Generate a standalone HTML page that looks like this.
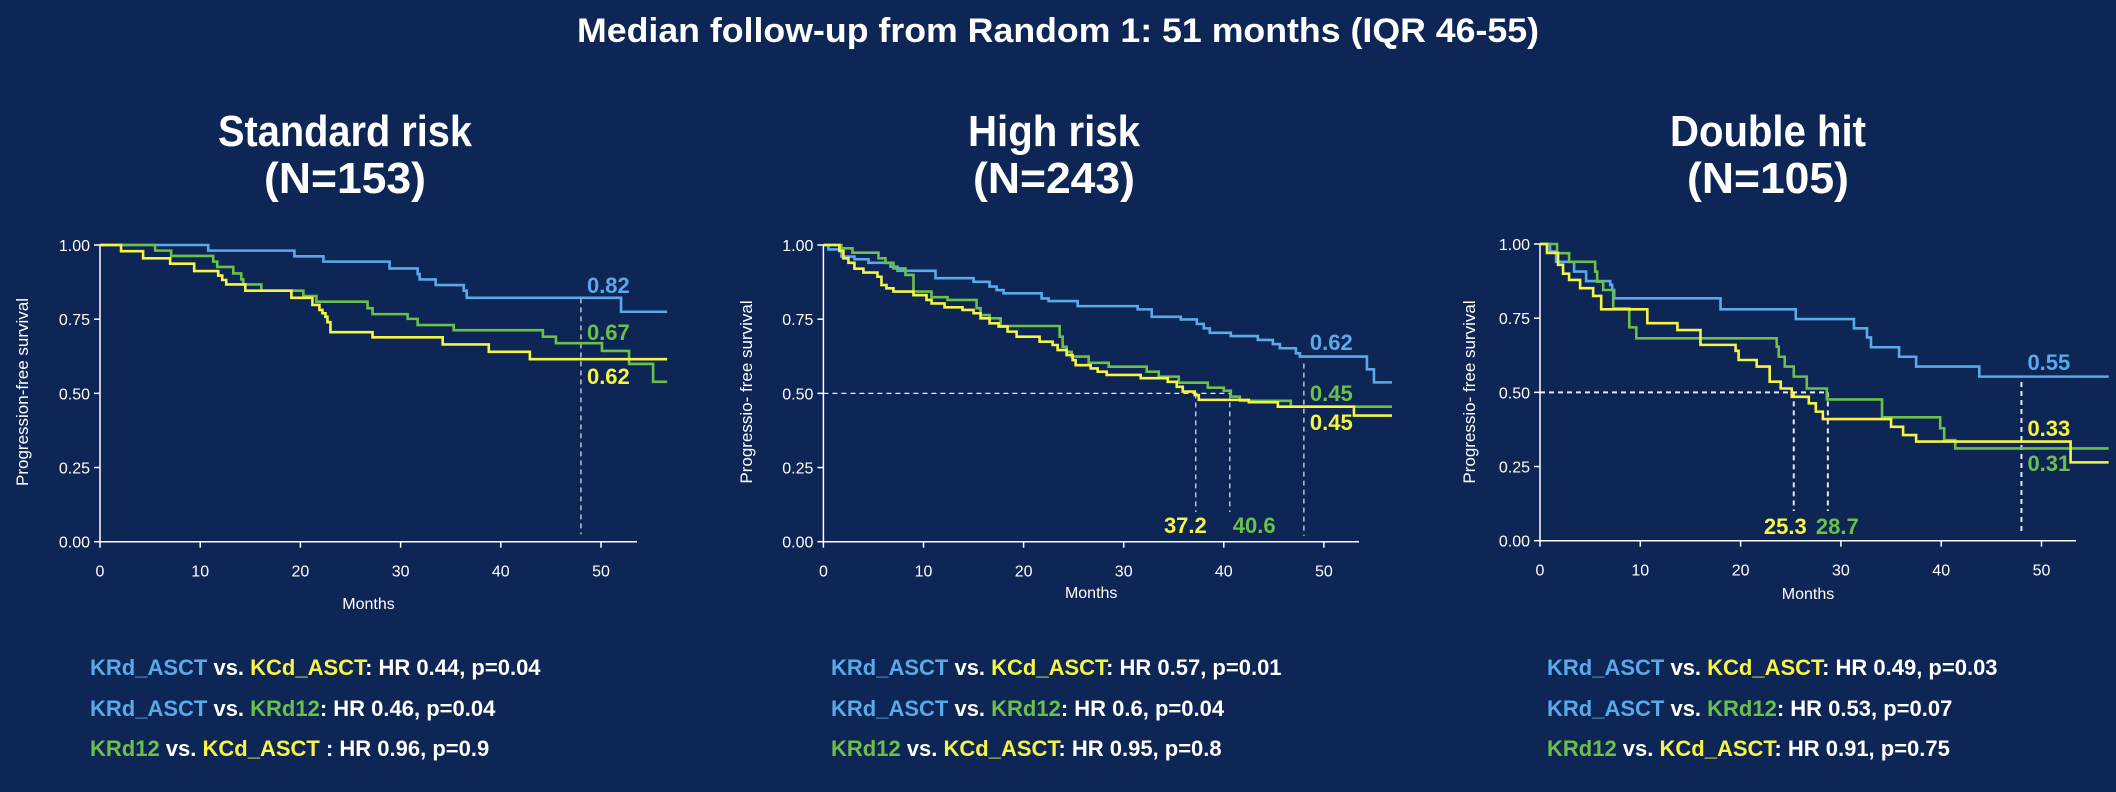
<!DOCTYPE html>
<html><head><meta charset="utf-8"><style>
html,body{margin:0;padding:0;background:#0d2656;}
svg{display:block;font-family:"Liberation Sans",Arial,sans-serif;}
</style></head><body>
<svg id="root" width="2116" height="792" viewBox="0 0 2116 792" xmlns="http://www.w3.org/2000/svg">
<rect x="0" y="0" width="2116" height="792" fill="#0d2656"/>
<text x="1058" y="42" text-anchor="middle" fill="#fff" font-weight="bold" font-size="34" textLength="962" lengthAdjust="spacingAndGlyphs">Median follow-up from Random 1: 51 months (IQR 46-55)</text>

<g fill="#fff" font-weight="bold" font-size="44" text-anchor="middle">
<text x="345" y="146" textLength="254" lengthAdjust="spacingAndGlyphs">Standard risk</text>
<text x="345" y="193" textLength="162" lengthAdjust="spacingAndGlyphs">(N=153)</text></g>
<g fill="#fff" font-weight="bold" font-size="44" text-anchor="middle">
<text x="1054" y="146" textLength="172" lengthAdjust="spacingAndGlyphs">High risk</text>
<text x="1054" y="193" textLength="162" lengthAdjust="spacingAndGlyphs">(N=243)</text></g>
<g fill="#fff" font-weight="bold" font-size="44" text-anchor="middle">
<text x="1768" y="146" textLength="196" lengthAdjust="spacingAndGlyphs">Double hit</text>
<text x="1768" y="193" textLength="162" lengthAdjust="spacingAndGlyphs">(N=105)</text></g>

<g font-weight="bold" font-size="22" fill="#fff">
<text x="90" y="675"><tspan fill="#5aa9e8">KRd_ASCT</tspan> vs. <tspan fill="#f6f544">KCd_ASCT</tspan>: HR 0.44, p=0.04</text>
<text x="90" y="716"><tspan fill="#5aa9e8">KRd_ASCT</tspan> vs. <tspan fill="#6cc04a">KRd12</tspan>: HR 0.46, p=0.04</text>
<text x="90" y="756"><tspan fill="#6cc04a">KRd12</tspan> vs. <tspan fill="#f6f544">KCd_ASCT</tspan> : HR 0.96, p=0.9</text>
<text x="831" y="675"><tspan fill="#5aa9e8">KRd_ASCT</tspan> vs. <tspan fill="#f6f544">KCd_ASCT</tspan>: HR 0.57, p=0.01</text>
<text x="831" y="716"><tspan fill="#5aa9e8">KRd_ASCT</tspan> vs. <tspan fill="#6cc04a">KRd12</tspan>: HR 0.6, p=0.04</text>
<text x="831" y="756"><tspan fill="#6cc04a">KRd12</tspan> vs. <tspan fill="#f6f544">KCd_ASCT</tspan>: HR 0.95, p=0.8</text>
<text x="1547" y="675"><tspan fill="#5aa9e8">KRd_ASCT</tspan> vs. <tspan fill="#f6f544">KCd_ASCT</tspan>: HR 0.49, p=0.03</text>
<text x="1547" y="716"><tspan fill="#5aa9e8">KRd_ASCT</tspan> vs. <tspan fill="#6cc04a">KRd12</tspan>: HR 0.53, p=0.07</text>
<text x="1547" y="756"><tspan fill="#6cc04a">KRd12</tspan> vs. <tspan fill="#f6f544">KCd_ASCT</tspan>: HR 0.91, p=0.75</text>
</g>
</svg>
<script>
// ---- data: step times (months) and survival after each step ----
const xTicks = [0,10,20,30,40,50];
const yTicks = [0,0.25,0.5,0.75,1.0];
const yTickLabels = ["0.00","0.25","0.50","0.75","1.00"];

// Standard risk
const stdBlueT = [10.8,19.4,22.3,28.9,31.7,31.9,33.5,36.3,36.6,52.0];
const stdBlueS = [0.981,0.962,0.944,0.921,0.902,0.884,0.865,0.846,0.822,0.775];
const stdGreenT = [5.5,7.1,11.3,11.7,13.3,14.1,14.3,16.1,20.3,21.6,26.7,27.2,30.7,31.7,35.3,44.2,45.5,50.1,52.8,55.2];
const stdGreenS = [0.981,0.963,0.944,0.926,0.904,0.884,0.867,0.846,0.828,0.809,0.787,0.767,0.751,0.730,0.713,0.691,0.669,0.643,0.599,0.539];
const stdYellowT = [2.1,4.3,7.0,9.4,11.8,12.2,12.6,14.5,19.1,21.2,21.9,22.2,22.5,22.7,23.0,27.2,34.2,38.8,42.9];
const stdYellowS = [0.979,0.955,0.937,0.912,0.897,0.882,0.867,0.846,0.822,0.798,0.781,0.770,0.758,0.740,0.706,0.689,0.665,0.640,0.615];
const stdEnd = 56.6;

// High risk
const highBlueT = [0.5,1.8,3.1,4.5,6.7,7.4,11.2,15.0,16.6,17.3,18.0,21.8,22.5,25.4,31.4,32.8,35.7,37.3,38.0,38.6,40.7,43.4,44.9,45.6,47.2,47.6,54.3,55.0];
const highBlueS = [0.985,0.961,0.952,0.940,0.927,0.913,0.888,0.876,0.860,0.848,0.837,0.820,0.811,0.794,0.783,0.758,0.749,0.734,0.719,0.704,0.693,0.680,0.666,0.652,0.635,0.624,0.581,0.537];
const highGreenT = [1.8,2.9,5.5,6.2,7.0,8.2,9.0,10.8,12.4,15.3,15.7,16.6,17.7,23.6,23.9,24.3,24.8,26.5,28.5,32.3,33.5,35.5,38.4,40.0,40.7,41.6,46.7];
const highGreenS = [0.989,0.974,0.955,0.940,0.921,0.899,0.843,0.824,0.815,0.787,0.764,0.753,0.727,0.691,0.657,0.640,0.624,0.603,0.590,0.573,0.556,0.536,0.519,0.509,0.489,0.475,0.455];
const highYellowT = [1.6,2.0,2.5,3.1,4.0,5.4,5.8,6.3,7.0,9.0,10.3,10.8,12.1,13.9,15.0,15.7,16.6,17.5,18.4,19.3,21.6,22.9,23.4,24.3,24.9,25.2,26.7,27.4,28.3,31.7,34.4,35.3,35.9,37.1,37.5,42.5,45.4,53.0];
const highYellowS = [0.980,0.955,0.940,0.920,0.907,0.893,0.865,0.854,0.843,0.831,0.815,0.803,0.790,0.781,0.770,0.753,0.736,0.725,0.708,0.691,0.674,0.663,0.646,0.629,0.612,0.595,0.584,0.573,0.562,0.551,0.539,0.522,0.506,0.494,0.478,0.470,0.455,0.425];
const highEnd = 56.8;

// Double hit
const dblBlueT = [1.0,1.6,3.4,4.6,7.0,7.2,7.4,18.0,25.5,31.3,32.6,33.0,35.8,37.5,43.8];
const dblBlueS = [0.975,0.940,0.907,0.875,0.862,0.845,0.817,0.780,0.747,0.716,0.685,0.652,0.620,0.587,0.553];
const dblGreenT = [1.7,2.9,5.5,5.7,6.3,7.3,8.9,9.6,23.6,23.8,24.4,25.3,26.6,28.6,34.1,39.9,40.3,41.4];
const dblGreenS = [0.969,0.940,0.907,0.873,0.845,0.783,0.719,0.682,0.654,0.620,0.587,0.553,0.513,0.476,0.416,0.379,0.339,0.311];
const dblYellowT = [0.7,1.8,2.3,2.9,4.0,5.3,6.1,10.7,13.7,16.0,19.5,19.8,21.6,22.9,24.0,25.1,26.8,27.5,28.2,35.0,36.2,37.5,52.9];
const dblYellowS = [0.970,0.930,0.900,0.879,0.851,0.825,0.780,0.733,0.710,0.660,0.640,0.609,0.587,0.536,0.513,0.485,0.463,0.435,0.410,0.384,0.356,0.334,0.264];
const dblEnd = 56.7;

// annotations
const stdLandmark = 48, stdVals = ["0.82","0.67","0.62"];
const highMedians = [37.2, 40.6], highVals = ["0.62","0.45","0.45"];
const dblMedians = [25.3, 28.7], dblVals = ["0.55","0.33","0.31"];

const BLUE="#5aa9e8", GREEN="#6cc04a", YELLOW="#f6f544";
const NS="http://www.w3.org/2000/svg";
const root=document.getElementById('root');
function mk(tag,attrs,parent){const e=document.createElementNS(NS,tag);for(const k in attrs)e.setAttribute(k,attrs[k]);(parent||root).appendChild(e);return e;}

function panel(cfg){
  const g=mk('g',{});
  
  
  const X=m=>cfg.x0+m*cfg.ppm, Y=s=>cfg.y0-s*(cfg.y0-cfg.y1);
  // axes
  const ya=mk('line',{x1:X(0),y1:Y(1),x2:X(0),y2:Y(0),stroke:'#fff','stroke-width':1.5},g);
   
  const xa=mk('line',{x1:X(0),y1:Y(0),x2:cfg.axEnd,y2:Y(0),stroke:'#fff','stroke-width':1.5},g);
   
  yTicks.forEach((v,i)=>{
    mk('line',{x1:X(0)-6,y1:Y(v),x2:X(0),y2:Y(v),stroke:'#fff','stroke-width':1.5},g);
    const t=mk('text',{x:X(0)-10,y:Y(v)+6,'text-anchor':'end',fill:'#fff','font-size':16},g);
    t.textContent=yTickLabels[i];
     
  });
  xTicks.forEach(v=>{
    mk('line',{x1:X(v),y1:Y(0),x2:X(v),y2:Y(0)+6,stroke:'#fff','stroke-width':1.5},g);
    const t=mk('text',{x:X(v),y:Y(0)+35,'text-anchor':'middle',fill:'#fff','font-size':16},g);
    t.textContent=String(v);
     
  });
  const xt=mk('text',{x:X(0)+ (cfg.axEnd-X(0))/2,y:cfg.monthsY,'text-anchor':'middle',fill:'#fff','font-size':16},g);
  xt.textContent='Months';
   
  const yt=mk('text',{x:0,y:0,'text-anchor':'middle',fill:'#fff','font-size':17,transform:`translate(${cfg.ytX},392) rotate(-90)`},g);
  yt.textContent=cfg.ytitle;
   
  // dashed guides
  const dash=(x1,y1,x2,y2,w)=>{const l=mk('line',{x1,y1,x2,y2,stroke:'#fff','stroke-width':w||1.2,'stroke-dasharray':'5,4',opacity:0.9},g);
     };
  cfg.guides(X,Y,dash);
  // curves
  cfg.series.forEach(s=>{
    let d=`M${X(0)},${Y(1)}`, prev=1;
    s.t.forEach((tm,i)=>{d+=` H${X(tm)} V${Y(s.s[i])}`;});
    d+=` H${X(cfg.end)}`;
    const p=mk('path',{d,fill:'none',stroke:s.c,'stroke-width':2.6},g);
    
    
  });
  cfg.labels(X,Y,g);
}
function lab(g,x,y,txt,c,anchor,name){
  const t=mk('text',{x,y,fill:c,'font-size':22,'font-weight':'bold','text-anchor':anchor||'start'},g);
  t.textContent=txt;
  
  
}

panel({name:'chart-standard-risk',x0:100,ppm:10.02,y0:541.7,y1:245,axEnd:637,end:stdEnd,monthsY:609,ytX:28,ytitle:'Progression-free survival',
  series:[{name:'curve-krd-asct',t:stdBlueT,s:stdBlueS,c:BLUE},{name:'curve-krd12',t:stdGreenT,s:stdGreenS,c:GREEN},{name:'curve-kcd-asct',t:stdYellowT,s:stdYellowS,c:YELLOW}],
  guides:(X,Y,dash)=>{dash(X(stdLandmark),Y(0.82),X(stdLandmark),Y(0.025));},
  labels:(X,Y,g)=>{const x=X(stdLandmark)+6;
    lab(g,x,293,stdVals[0],BLUE,'start','value-label-blue');
    lab(g,x,340,stdVals[1],GREEN,'start','value-label-green');
    lab(g,x,384,stdVals[2],YELLOW,'start','value-label-yellow');}
});
panel({name:'chart-high-risk',x0:823.4,ppm:10.01,y0:541.7,y1:245,axEnd:1359,end:highEnd,monthsY:598,ytX:752,ytitle:'Progressio- free survival',
  series:[{name:'curve-krd-asct',t:highBlueT,s:highBlueS,c:BLUE},{name:'curve-krd12',t:highGreenT,s:highGreenS,c:GREEN},{name:'curve-kcd-asct',t:highYellowT,s:highYellowS,c:YELLOW}],
  guides:(X,Y,dash)=>{dash(X(0),Y(0.5),X(highMedians[1]),Y(0.5));
    dash(X(highMedians[0]),Y(0.5),X(highMedians[0]),Y(0.1));
    dash(X(highMedians[1]),Y(0.5),X(highMedians[1]),Y(0.1));
    dash(X(48),Y(0.60),X(48),Y(0.02));},
  labels:(X,Y,g)=>{const x=X(48)+6;
    lab(g,x,350,highVals[0],BLUE,'start','value-label-blue');
    lab(g,x,401,highVals[1],GREEN,'start','value-label-green');
    lab(g,x,430,highVals[2],YELLOW,'start','value-label-yellow');
    lab(g,X(highMedians[0])+11,533,String(highMedians[0]),YELLOW,'end','median-label-yellow');
    lab(g,X(highMedians[1])+3,533,String(highMedians[1]),GREEN,'start','median-label-green');}
});
panel({name:'chart-double-hit',x0:1540,ppm:10.03,y0:540.7,y1:244,axEnd:2076,end:dblEnd,monthsY:599,ytX:1475,ytitle:'Progressio- free survival',
  series:[{name:'curve-krd-asct',t:dblBlueT,s:dblBlueS,c:BLUE},{name:'curve-krd12',t:dblGreenT,s:dblGreenS,c:GREEN},{name:'curve-kcd-asct',t:dblYellowT,s:dblYellowS,c:YELLOW}],
  guides:(X,Y,dash)=>{dash(X(0),Y(0.5),X(dblMedians[1]),Y(0.5),2);
    dash(X(dblMedians[0]),Y(0.5),X(dblMedians[0]),Y(0.1),2);
    dash(X(dblMedians[1]),Y(0.5),X(dblMedians[1]),Y(0.1),2);
    dash(X(48),Y(0.535),X(48),Y(0.02),2);},
  labels:(X,Y,g)=>{const x=X(48)+6;
    lab(g,x,370,dblVals[0],BLUE,'start','value-label-blue');
    lab(g,x,436,dblVals[1],YELLOW,'start','value-label-yellow');
    lab(g,x,471,dblVals[2],GREEN,'start','value-label-green');
    lab(g,X(dblMedians[0])+13,534,String(dblMedians[0]),YELLOW,'end','median-label-yellow');
    lab(g,X(dblMedians[1])-12,534,String(dblMedians[1]),GREEN,'start','median-label-green');}
});
</script>
</body></html>
